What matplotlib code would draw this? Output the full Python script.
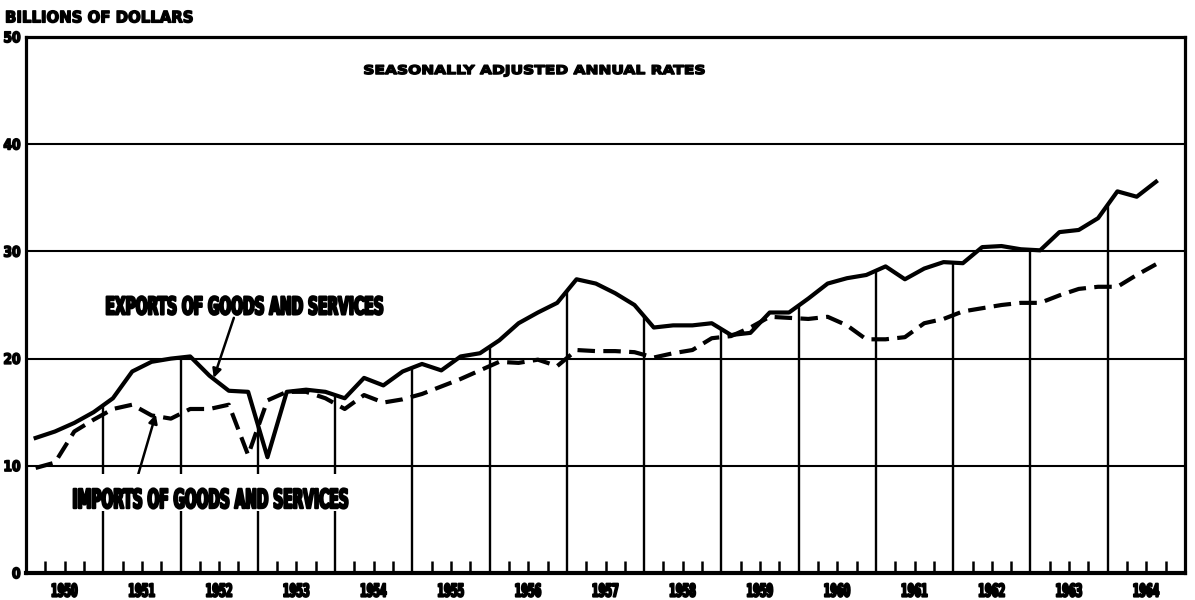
import numpy as np
import matplotlib
matplotlib.use("Agg")
import matplotlib.pyplot as plt
import matplotlib.transforms as mtransforms
from matplotlib.textpath import TextPath
from matplotlib.patches import PathPatch, Rectangle
from matplotlib.font_manager import FontProperties

# quarterly values, billions of dollars, 1950 Q1 .. 1964 Q3
years = list(range(1950, 1965))
quarters = 1950.125 + 0.25 * np.arange(59)

exports = [12.6, 13.2, 14.0, 15.0, 16.3, 18.8, 19.7, 20.0,
           20.2, 18.4, 17.0, 16.9, 10.8, 16.9, 17.1, 16.9,
           16.3, 18.2, 17.5, 18.8, 19.5, 18.9, 20.2, 20.5,
           21.7, 23.3, 24.3, 25.2, 27.4, 27.0, 26.1, 25.0,
           22.9, 23.1, 23.1, 23.3, 22.2, 22.4, 24.3, 24.3,
           25.6, 27.0, 27.5, 27.8, 28.6, 27.4, 28.4, 29.0,
           28.9, 30.4, 30.5, 30.2, 30.1, 31.8, 32.0, 33.1,
           35.6, 35.1, 36.5]
imports = [9.8, 10.3, 13.2, 14.3, 15.3, 15.7, 14.7, 14.4,
           15.3, 15.3, 15.7, 11.0, 16.1, 16.9, 16.9, 16.3,
           15.3, 16.6, 15.9, 16.2, 16.7, 17.4, 18.1, 18.9,
           19.7, 19.6, 19.9, 19.3, 20.8, 20.7, 20.7, 20.6,
           20.1, 20.5, 20.8, 21.9, 22.1, 22.9, 23.9, 23.8,
           23.7, 23.9, 23.1, 21.8, 21.8, 22.0, 23.3, 23.7,
           24.4, 24.7, 25.0, 25.2, 25.2, 25.9, 26.5, 26.7,
           26.7, 27.8, 28.8]
y_ticks = [0, 10, 20, 30, 40, 50]

fig = plt.figure(figsize=(11.95, 6), dpi=100)
ax = fig.add_axes([26 / 1195, 27 / 600, 1159 / 1195, 536 / 600])
ax.set_xlim(1950, 1965)
ax.set_ylim(0, 50)

for side in ["top", "left", "right"]:
    ax.spines[side].set_linewidth(2.3)
ax.spines["bottom"].set_linewidth(3)
ax.set_xticks([])
ax.set_yticks([])
ax.set_xticks([y + q for y in years for q in (0.25, 0.5, 0.75)], minor=True)
ax.tick_params(which="minor", direction="in", length=9, width=1.8, bottom=True)

for v in y_ticks[1:-1]:
    ax.axhline(v, color="black", lw=1.5, zorder=1)

# year dividers reach up to the upper curve
bounds = np.array(years[1:])
tops = np.maximum(np.interp(bounds, quarters, exports), np.interp(bounds, quarters, imports))
ax.vlines(bounds, 0, tops, color="black", lw=1.7, zorder=1)

ax.plot(quarters, exports, color="black", lw=3.0, solid_joinstyle="round", zorder=3)
ax.plot(quarters, imports, color="black", lw=3.0, dashes=(4.2, 2.0), zorder=3)

FP = FontProperties(family="DejaVu Sans", weight="bold")


def fit_text(x, y, s, h, w=None, aspect=1.0, ha="center", stroke=0.4):
    tp = TextPath((0, 0), s, size=50, prop=FP)
    ext = tp.get_extents()
    sy = h / ext.height
    sx = w / ext.width if w else sy * aspect
    ox = {"center": ext.x0 + ext.width / 2, "right": ext.x1, "left": ext.x0}[ha]
    oy = ext.y0 + ext.height / 2
    X, Y = ax.transData.transform((x, y))
    tr = mtransforms.Affine2D().translate(-ox, -oy).scale(sx, sy).translate(X, Y)
    fig.add_artist(PathPatch(tp, transform=tr, fc="black", ec="black", lw=stroke,
                             joinstyle="round", zorder=6))
    return X, Y, ext.width * sx, ext.height * sy


fit_text(1950.95, 51.9, "BILLIONS OF DOLLARS", 12, w=186, stroke=1.0)
fit_text(1956.58, 46.85, "SEASONALLY ADJUSTED ANNUAL RATES", 11.5, w=340, stroke=1.0)

for v in y_ticks:
    fit_text(1950 - 6 / 77.27, v, str(v), 11, aspect=0.85, ha="right", stroke=1.1)

for y in years:
    fit_text(y + 0.5, -1.6, str(y), 13.5, w=25, stroke=1.4)

fit_text(1952.83, 24.95, "EXPORTS OF GOODS AND SERVICES", 18.5, w=276, stroke=1.6)
X, Y, w, h = fit_text(1952.39, 6.95, "IMPORTS OF GOODS AND SERVICES", 20, w=274, stroke=1.6)
fig.add_artist(Rectangle((X - w / 2 - 5, Y - h / 2 - 3), w + 10, h + 17,
                         transform=mtransforms.IdentityTransform(),
                         fc="white", ec="none", zorder=5))

arrow = dict(arrowstyle="-|>", color="black", lw=1.8, mutation_scale=13,
             shrinkA=0, shrinkB=0)
ax.annotate("", xy=(1952.43, 18.2), xytext=(1952.69, 23.8), arrowprops=arrow, zorder=4)
ax.annotate("", xy=(1951.68, 14.8), xytext=(1951.42, 8.4), arrowprops=arrow, zorder=4)

fig.savefig("out.png", dpi=100)
